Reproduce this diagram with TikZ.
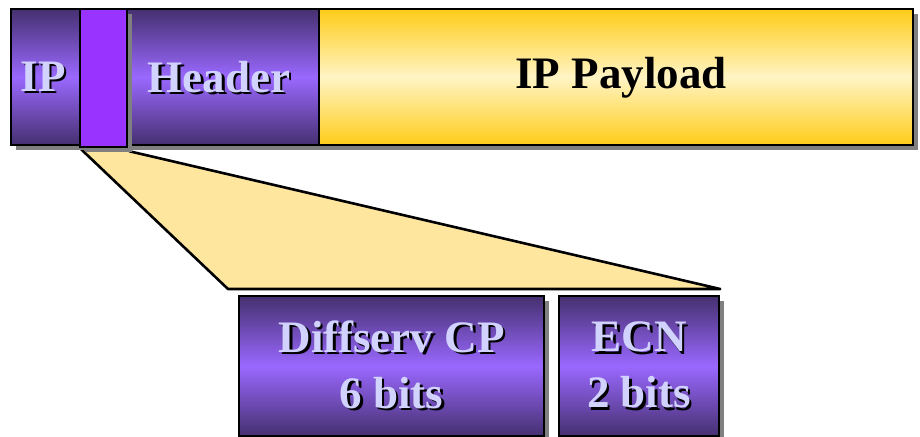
\documentclass[tikz,border=0pt]{standalone}
\usepackage{fontspec}
\setmainfont{Liberation Serif}
\usetikzlibrary{shadows,backgrounds}
\definecolor{pdark}{HTML}{45306F}
\definecolor{pmid}{HTML}{9A68FF}
\definecolor{pbright}{HTML}{9933FF}
\definecolor{gold}{HTML}{FFCC18}
\definecolor{goldmid}{HTML}{FFF4C4}
\definecolor{lav}{HTML}{D2D2FF}
\definecolor{trap}{HTML}{FFE69E}
\newcommand\shd[1]{\leavevmode\rlap{\kern2.5pt\raisebox{-2.5pt}{\textcolor{black}{#1}}}\textcolor{lav}{#1}}
\begin{document}
\begin{tikzpicture}[x=1pt,y=-1pt,
  shd5/.style={general shadow={fill=black!50,shadow xshift=5pt,shadow yshift=-5pt}},
  pbox/.style={draw=black,line width=2.2pt,rectangle,inner sep=0pt,anchor=north west,
    top color=pdark,bottom color=pdark,middle color=pmid,shd5},
  gbox/.style={draw=black,line width=2.2pt,rectangle,inner sep=0pt,anchor=north west,
    top color=gold,bottom color=gold,middle color=goldmid,shd5},
  nbox/.style={draw=black,line width=2.2pt,rectangle,inner sep=0pt,anchor=north west,
    fill=pbright,shd5},
  lbl/.style={font=\bfseries\fontsize{45}{54}\selectfont,align=center,inner sep=0pt}]
\useasboundingbox (0,0) rectangle (920,436);
% top bar
\node[pbox,minimum width=308pt,minimum height=136pt] (hdr) at (10,8) {};
\node[gbox,minimum width=594pt,minimum height=136pt] (pay) at (318,8) {};
\node[nbox,minimum width=47pt,minimum height=138pt] (ds) at (79,8) {};
\node[lbl] (iptxt) at (43,78) {\shd{IP}};
\node[lbl] (hdrtxt) at (219,78) {\shd{Header}};
\node[lbl,text=black] (paytxt) at (621,78) {IP Payload};
% bottom boxes
\node[pbox,minimum width=305pt,minimum height=140pt] (dscp) at (238,295) {};
\node[pbox,minimum width=160pt,minimum height=140pt] (ecn) at (558,295) {};
\node[lbl] (dstxt) at (dscp.center) {\shd{Diffserv CP}\\[2pt]\shd{6 bits}};
\node[lbl] (ecntxt) at (ecn.center) {\shd{ECN}\\[2pt]\shd{2 bits}};
% zoom trapezoid
\coordinate (tl) at ([xshift=1pt]ds.south west);
\coordinate (tr) at ([xshift=1pt,yshift=-3pt]ds.south east);
\coordinate (bl) at (228,289);
\coordinate (br) at ([yshift=6pt]ecn.north east);
\begin{scope}[on background layer]
\fill[trap] (tl) -- (tr) -- (br) -- (bl) -- cycle;
\draw[line width=2.6pt,line join=round] (tl) -- (bl) -- (br) -- (tr);
\end{scope}
\end{tikzpicture}
\end{document}
